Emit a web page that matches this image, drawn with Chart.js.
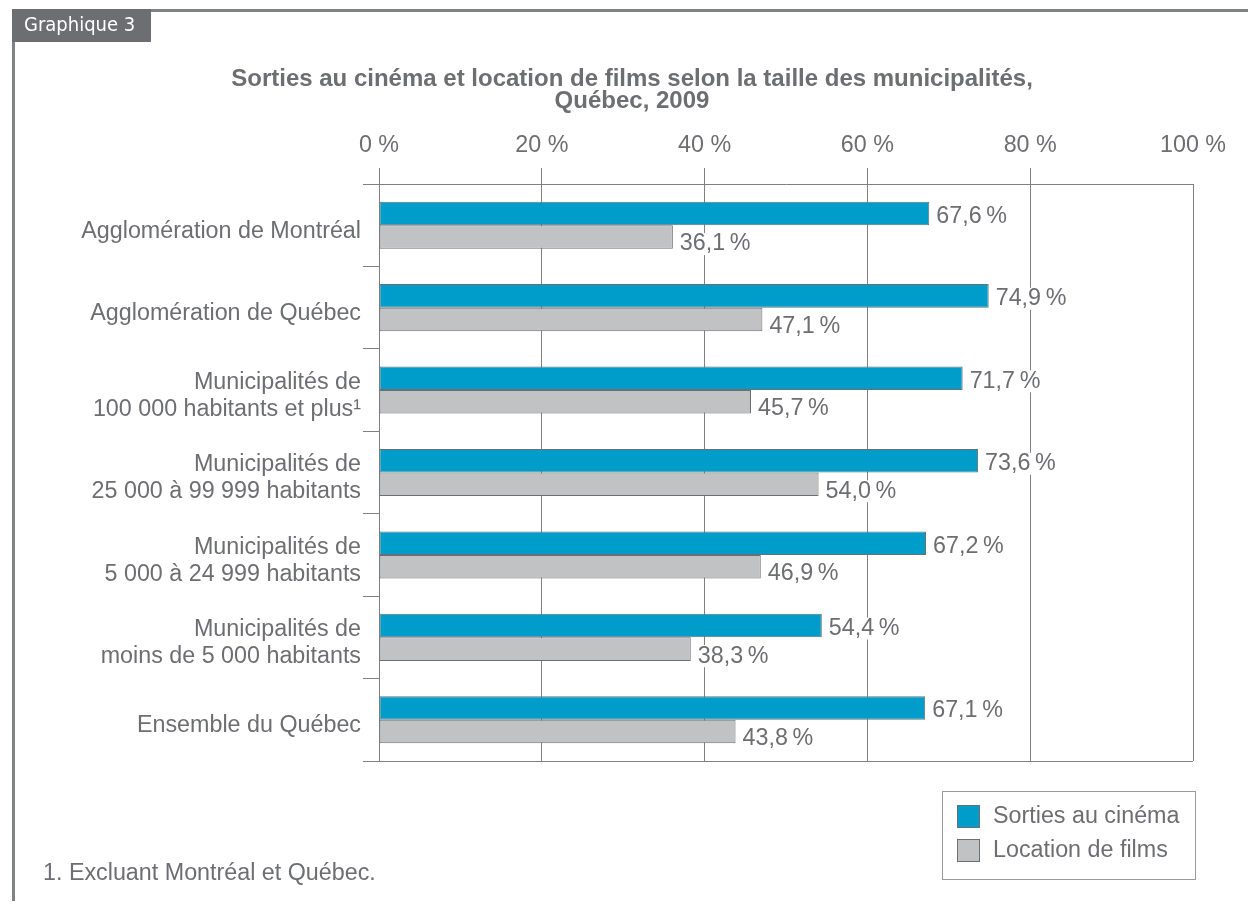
<!DOCTYPE html>
<html><head><meta charset="utf-8">
<script src="https://cdn.jsdelivr.net/npm/chart.js@4.4.0/dist/chart.umd.min.js"></script>
<style>html,body{margin:0;padding:0;background:#fff}canvas{display:block}</style>
</head><body>
<canvas id="c" width="1248" height="906"></canvas>
<script>
const categories = [
  'Agglomération de Montréal',
  'Agglomération de Québec',
  ['Municipalités de', '100 000 habitants et plus¹'],
  ['Municipalités de', '25 000 à 99 999 habitants'],
  ['Municipalités de', '5 000 à 24 999 habitants'],
  ['Municipalités de', 'moins de 5 000 habitants'],
  'Ensemble du Québec'
];
const cinemaValues = [67.6, 74.9, 71.7, 73.6, 67.2, 54.4, 67.1];
const locationValues = [36.1, 47.1, 45.7, 54.0, 46.9, 38.3, 43.8];
const xTickValues = [0, 20, 40, 60, 80, 100];
const seriesNames = ['Sorties au cinéma', 'Location de films'];
const titleLines = ['Sorties au cinéma et location de films selon la taille des municipalités,', 'Québec, 2009'];
const footnote = '1. Excluant Montréal et Québec.';
const tagText = 'Graphique 3';

const GRAY = '#6d6e71';
const LINE = '#7f8083';
const BLUE = '#009dcb';
const LIGHT = '#c1c2c4';
const FONT = '"Liberation Sans", Arial, Helvetica, sans-serif';
const FS = 23.3;
Chart.defaults.font.family = FONT;
Chart.defaults.color = GRAY;

const fmt = v => v.toFixed(1).replace('.', ',') + '\u2009%';

const decorPlugin = {
  id: 'decor',
  beforeDraw(chart) {
    const c = chart.ctx;
    c.save();
    c.fillStyle = '#fff';
    c.fillRect(0, 0, chart.width, chart.height);
    // frame
    c.fillStyle = '#808285';
    c.fillRect(12, 9, chart.width - 12, 3);
    c.fillRect(12, 9, 3, 892);
    // tag
    c.fillStyle = GRAY;
    c.fillRect(12, 9, 139, 33);
    c.fillStyle = '#fff';
    c.font = '20px "DejaVu Sans Condensed", "DejaVu Sans", sans-serif';
    c.textAlign = 'left';
    c.textBaseline = 'middle';
    c.fillText(tagText, 24, 26);
    // title
    c.fillStyle = GRAY;
    c.font = 'bold 24px ' + FONT;
    c.textAlign = 'center';
    c.textBaseline = 'alphabetic';
    titleLines.forEach((t, i) => c.fillText(t, 632, 86 + i * 22));
    // footnote
    c.font = FS + 'px ' + FONT;
    c.textAlign = 'left';
    c.textBaseline = 'middle';
    c.fillText(footnote, 43, 874);
    c.restore();
  },
  afterDraw(chart) {
    const c = chart.ctx;
    const a = chart.chartArea;
    c.save();
    // bottom edge of plot
    c.strokeStyle = LINE;
    c.lineWidth = 1;
    c.beginPath();
    c.moveTo(a.left, Math.round(a.bottom) + 0.5);
    c.lineTo(a.right, Math.round(a.bottom) + 0.5);
    c.stroke();
    // legend
    c.strokeStyle = '#9a9b9d';
    c.strokeRect(942.5, 791.5, 253, 88);
    chart.data.datasets.forEach((ds, i) => {
      const y = 805 + i * 34;
      c.fillStyle = ds.backgroundColor;
      c.fillRect(957, y, 23, 23);
      c.strokeStyle = GRAY;
      c.strokeRect(957.5, y + 0.5, 22, 22);
      c.fillStyle = GRAY;
      c.font = FS + 'px ' + FONT;
      c.textAlign = 'left';
      c.textBaseline = 'middle';
      c.fillText(ds.label, 993, y + 12);
    });
    c.restore();
  },
  afterDatasetsDraw(chart) {
    const c = chart.ctx;
    c.save();
    c.font = FS + 'px ' + FONT;
    c.textAlign = 'left';
    c.textBaseline = 'middle';
    chart.data.datasets.forEach((ds, di) => {
      chart.getDatasetMeta(di).data.forEach((bar, i) => {
        const t = fmt(ds.data[i]);
        const x = bar.x + 7;
        const y = bar.y + (di === 0 ? 3 : 7);
        const w = c.measureText(t).width;
        c.fillStyle = '#fff';
        c.fillRect(x - 1, y - 11, w + 2, 22);
        c.fillStyle = GRAY;
        c.fillText(t, x, y);
      });
    });
    c.restore();
  }
};

new Chart(document.getElementById('c'), {
  type: 'bar',
  data: {
    labels: categories,
    datasets: [
      { label: seriesNames[0], data: cinemaValues, backgroundColor: BLUE, borderColor: GRAY, borderWidth: 1, borderSkipped: false },
      { label: seriesNames[1], data: locationValues, backgroundColor: LIGHT, borderColor: GRAY, borderWidth: 1, borderSkipped: false }
    ]
  },
  options: {
    indexAxis: 'y',
    responsive: false,
    animation: false,
    datasets: { bar: { categoryPercentage: 0.571, barPercentage: 1 } },
    layout: { padding: { left: 0, top: 0, right: 55, bottom: 145 } },
    plugins: { legend: { display: false }, tooltip: { enabled: false }, title: { display: false } },
    scales: {
      x: {
        position: 'top', min: 0, max: 100,
        afterBuildTicks: s => { s.ticks = xTickValues.map(v => ({ value: v })); },
        afterFit: s => { s.height = 184; },
        grid: {
          color: LINE, lineWidth: 1, tickLength: 16,
          tickColor: ctx => (ctx.tick && ctx.tick.value === 100) ? 'rgba(0,0,0,0)' : LINE
        },
        border: { display: true, color: LINE },
        ticks: { padding: 8, font: { size: FS }, color: GRAY, callback: v => v + ' %', maxRotation: 0 }
      },
      y: {
        afterFit: s => { s.width = 379; },
        grid: { display: true, drawOnChartArea: false, tickLength: 16, color: LINE, offset: true },
        border: { display: true, color: LINE },
        ticks: { padding: 2, labelOffset: 6, font: { size: FS, lineHeight: 1.16 }, color: GRAY, autoSkip: false }
      }
    }
  },
  plugins: [decorPlugin]
});
</script>
</body></html>
